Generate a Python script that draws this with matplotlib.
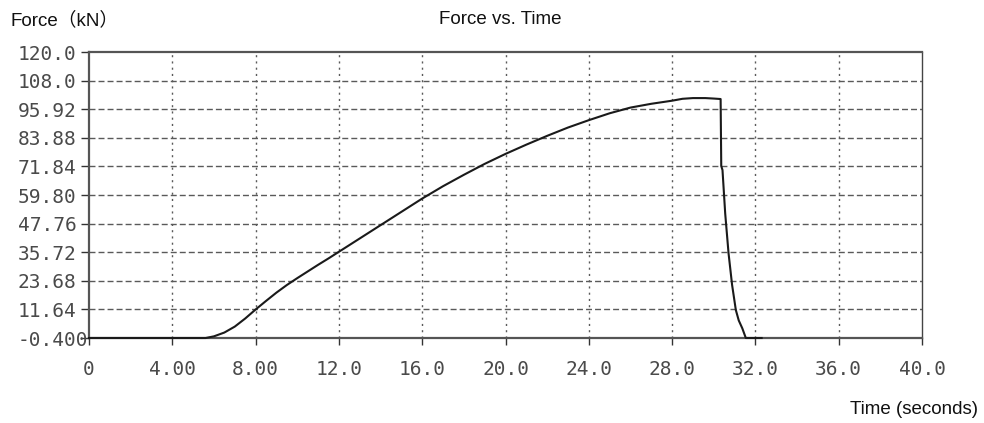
"""
Force vs. time curve from a tensile test.
"""

import matplotlib
matplotlib.use("Agg")
import matplotlib.pyplot as plt

# data
time_s = [0.0, 5.6, 6.0, 6.5, 7.0, 7.5, 8.0, 8.5, 9.0, 9.5, 10.0, 10.5, 11.0,
          11.5, 12.0, 13.0, 14.0, 15.0, 16.0, 17.0, 18.0, 19.0, 20.0, 21.0,
          22.0, 23.0, 24.0, 25.0, 26.0, 27.0, 28.0, 28.5, 29.0, 29.6, 30.0,
          30.33, 30.36, 30.42, 30.55, 30.71, 30.88, 31.06, 31.2, 31.37, 31.54,
          32.3]
force_kn = [-0.4, -0.4, 0.3, 1.9, 4.4, 7.8, 11.6, 15.2, 18.7, 21.9, 24.8, 27.6,
            30.4, 33.1, 35.9, 41.5, 47.1, 52.7, 58.3, 63.5, 68.3, 72.9, 77.1,
            81.0, 84.7, 88.2, 91.3, 94.2, 96.6, 98.2, 99.5, 100.3, 100.6,
            100.6, 100.4, 100.2, 72.0, 70.3, 52.0, 35.3, 22.0, 11.4, 7.0, 3.7,
            -0.4, -0.4]

x_ticks = [0, 4, 8, 12, 16, 20, 24, 28, 32, 36, 40]
x_tick_labels = ["0", "4.00", "8.00", "12.0", "16.0", "20.0", "24.0", "28.0",
                 "32.0", "36.0", "40.0"]
y_ticks = [120.0, 108.0, 95.92, 83.88, 71.84, 59.80, 47.76, 35.72, 23.68, 11.64, -0.4]
y_tick_labels = ["120.0", "108.0", "95.92", "83.88", "71.84", "59.80", "47.76",
                 "35.72", "23.68", "11.64", "-0.400"]

W, H = 984, 423
fig = plt.figure(figsize=(W / 100, H / 100), dpi=100)
ax = fig.add_axes([89 / W, 1 - 338 / H, (922 - 89) / W, (338 - 52) / H])

grid_col = "#5a5a5a"
# grid: dashed horizontal, dotted vertical
for y in y_ticks[1:-1]:
    ax.axhline(y, color=grid_col, lw=1.0, ls=(0, (4.3, 2.2)), zorder=1)
for x in x_ticks[1:-1]:
    ax.axvline(x, color=grid_col, lw=1.0, ls=(0, (1.5, 3.0)), zorder=1)

ax.plot(time_s, force_kn, color="#1a1a1a", lw=1.5, zorder=3, clip_on=False)

ax.set_xlim(0, 40)
ax.set_ylim(-0.4, 120.0)

ax.set_xticks(x_ticks)
ax.set_xticklabels(x_tick_labels)
ax.set_yticks(y_ticks)
ax.set_yticklabels(y_tick_labels)

mono = "DejaVu Sans Mono"
ax.tick_params(axis="x", direction="out", length=5, width=1.0, color="#333333",
               pad=11, labelsize=14, labelcolor="#4a4a4a")
ax.tick_params(axis="y", direction="out", length=5.8, width=1.0, color="#333333",
               pad=45.4, labelsize=14, labelcolor="#4a4a4a")
for lab in ax.get_xticklabels() + ax.get_yticklabels():
    lab.set_fontfamily(mono)
for lab in ax.get_yticklabels():
    lab.set_horizontalalignment("left")

for side in ["left", "bottom", "top"]:
    ax.spines[side].set_color("#555555")
    ax.spines[side].set_linewidth(1.6)
ax.spines["right"].set_color("#444444")
ax.spines["right"].set_linewidth(1.0)

# labels and title
sans = ["Liberation Sans", "Noto Sans CJK SC"]
fig.text(10 / W, 1 - 20 / H, "Force（kN）", family=sans, fontsize=13.5,
         ha="left", va="center", color="#111111")
fig.text(500 / W, 1 - 20 / H, "Force vs. Time", family=sans, fontsize=13.5,
         ha="center", va="center", color="#111111")
fig.text(978 / W, 1 - 409 / H, "Time (seconds)", family=sans, fontsize=13.5,
         ha="right", va="center", color="#111111")

fig.savefig("out.png", dpi=100)
